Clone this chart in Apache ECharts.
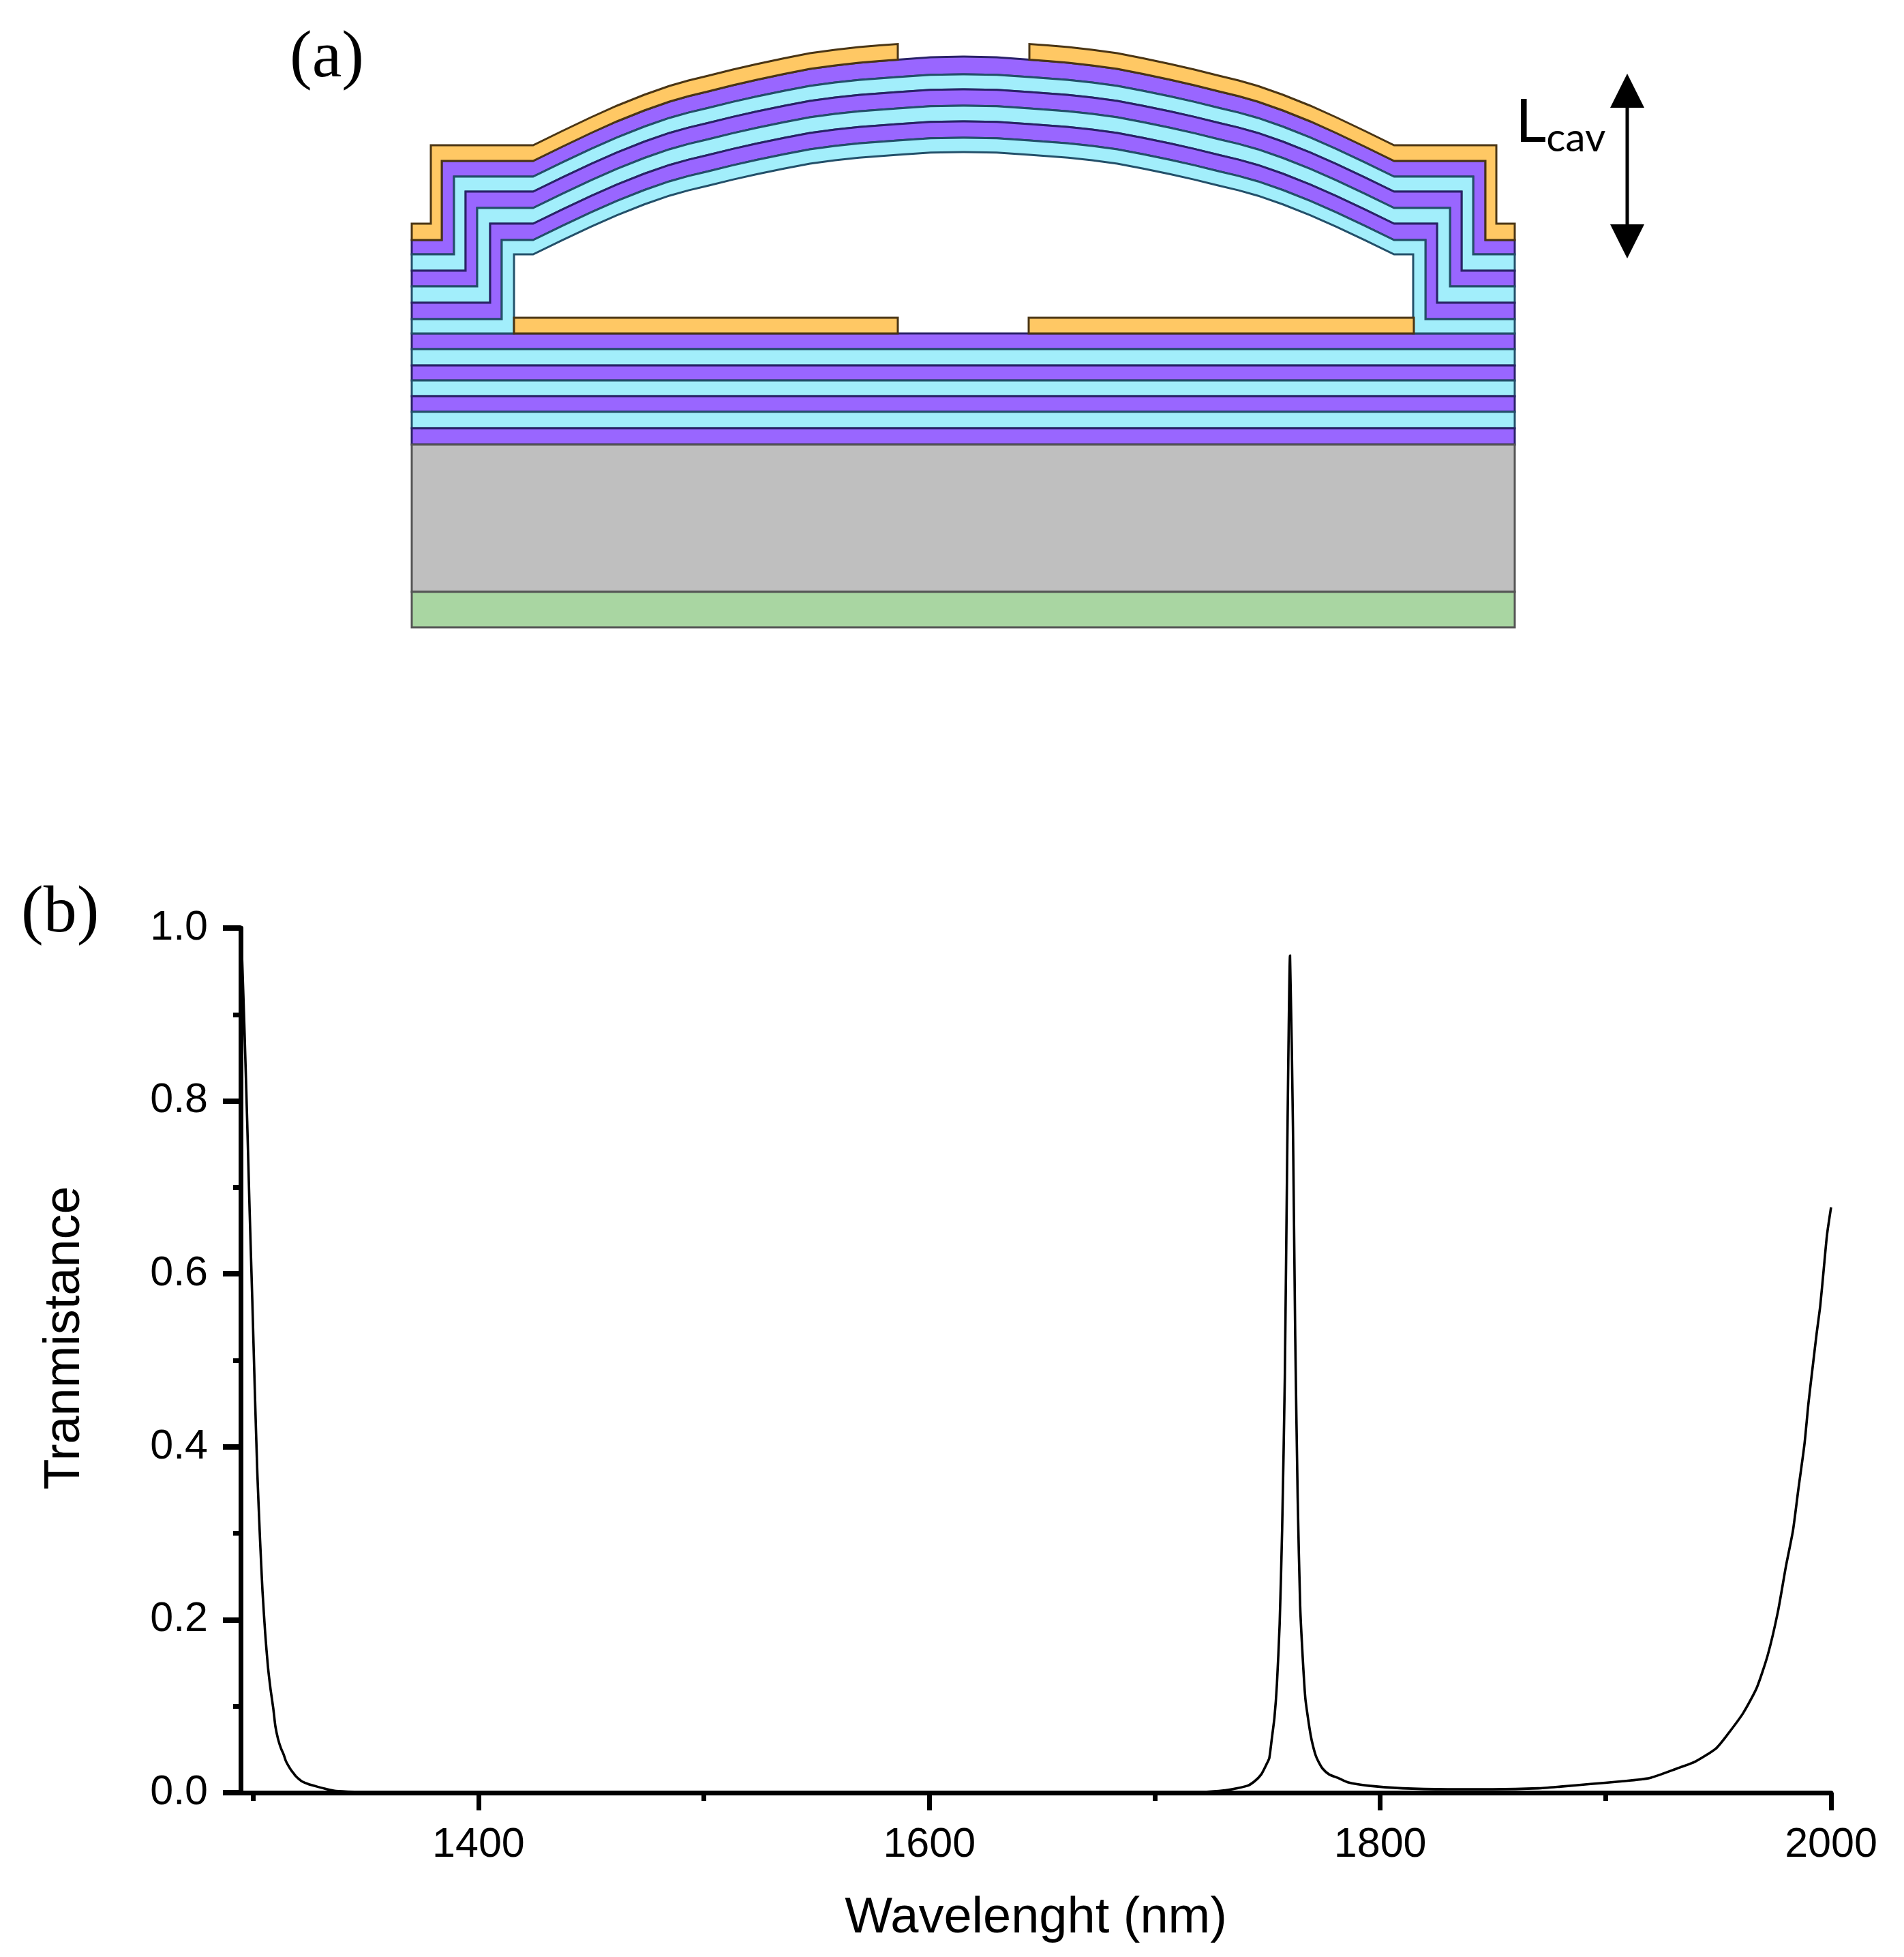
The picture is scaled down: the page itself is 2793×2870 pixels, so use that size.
<!DOCTYPE html>
<html>
<head>
<meta charset="utf-8">
<style>html,body{margin:0;padding:0;background:#fff}#c{width:2793px;height:2870px}</style>
<script src="https://cdn.jsdelivr.net/npm/echarts@6/dist/echarts.min.js"></script>
</head>
<body>
<div id="c"></div>
<script>
// ---- panel (b): transmittance spectrum ----
const wavelengths = [1294.5,1295.1,1296.3,1297.4,1298.5,1299.7,1300.8,1301.9,1303.1,1304.2,1305.4,1306.6,1307.8,1309,1309.9,1311.1,1312.3,1313.6,1314.5,1315.7,1316.9,1318.1,1319,1320.2,1321.7,1324.4,1328.4,1332.9,1336.8,1345,1360,1450,1550,1650,1715,
  1728.4,1734.2,1741.1,1744.2,1747.2,1749.6,1750.8,1751.9,1753.1,1754.2,1755.4,1756.5,1757.7,1758.8,1760,1761.3,1762.3,1763.4,1764.5,1765.7,1766.8,1768.1,1769.2,1770.2,1771.4,1772.6,1774.4,1777.4,1781.3,1785.6,
  1795,1810,1830,1850,1870,1880,1893.3,1906.6,1919.6,1931.7,1939.8,1948.9,1953.7,1961,1967,1971.9,1976.4,1980,1983.1,1985.5,1988.2,1990,1992.1,1993.6,1995.2,1996.7,1998.2,2000];
const transmittance = [1.0,0.969,0.874,0.777,0.672,0.567,0.464,0.37,0.293,0.233,0.184,0.146,0.119,0.097,0.077,0.062,0.052,0.044,0.037,0.031,0.026,0.022,0.019,0.016,0.013,0.01,0.007,0.004,0.002,0.001,0,0,0,0,0,
  0.002,0.004,0.008,0.013,0.021,0.033,0.04,0.062,0.087,0.126,0.195,0.304,0.481,0.749,0.968,0.77,0.529,0.341,0.216,0.153,0.109,0.084,0.066,0.054,0.043,0.036,0.028,0.021,0.017,0.012,
  0.008,0.005,0.004,0.004,0.005,0.007,0.01,0.013,0.017,0.028,0.036,0.051,0.066,0.092,0.121,0.159,0.209,0.262,0.303,0.351,0.403,0.451,0.498,0.531,0.563,0.604,0.645,0.677];
const xMajorTicks = [1400,1600,1800,2000];
const xMinorTicks = [1300,1500,1700,1900];
const xTitle = 'Wavelenght (nm)';
const yTitle = 'Tranmistance';

// ---- panel (a): layer structure, in picture units on hidden axes ----
const archX = [782,825,867,905,945,982,1010,1039,1075,1110,1150,1188,1225,1260,1290,1317,1365,1412.5];
const archY = [236,215,195,178,162,149,141,134,125,117,108.5,101,96,92,89.5,87.5,84,83];
const centerExtra = [0,0,3,3,3,3,3,3];
const stepEdgeY = [328,352,373,397,420,444,468,489];
const stepX = [632,648,666,683,700,719,736,754];
const shoulderY = [213,236,259,281,305,328,352,373];
const flatY = [489,512,536,558,581,604,628,652,868,920];
const leftEdge = 604, rightEdge = 2222, mirror = 2827, goldCut = 1317;
const colors = {gold:'#FFC864',purple:'#9966FF',cyan:'#A2EEFB',gray:'#BFBFBF',green:'#A9D6A2',black:'#000000'};
const strokes = {gold:'#4A3514',purple:'#2A2268',cyan:'#23506A',gray:'#555555',green:'#555555',black:'#000000'};
const flatColors = ['purple','cyan','purple','cyan','purple','cyan','purple','gray','green'];
const archColors = ['purple','cyan','purple','cyan','purple','cyan'];
const lowerGold = [[754,1317],[1509,2074]];
const lowerGoldY = [466,489];
const arrowX = [2362,2384.5,2389.5,2412];
const arrowY = [108,158,329,379];

function flip(q) { return [q[0] === leftEdge ? rightEdge : mirror - q[0], q[1]]; }
function halfBoundary(i, cut) {
  const shift = shoulderY[i] - archY[0];
  const p = [[leftEdge, stepEdgeY[i]], [stepX[i], stepEdgeY[i]], [stepX[i], shoulderY[i]]];
  archX.forEach((x, k) => {
    if (x <= cut) p.push([x, archY[k] + shift + centerExtra[i] * (x - archX[0]) / (archX[archX.length - 1] - archX[0])]);
  });
  return p;
}
function fullBoundary(i) {
  const h = halfBoundary(i, Infinity);
  return h.concat(h.slice().reverse().map(flip));
}
const shapes = [];
flatColors.forEach((c, i) => shapes.push({c, p:[[leftEdge,flatY[i]],[rightEdge,flatY[i]],[rightEdge,flatY[i+1]],[leftEdge,flatY[i+1]]]}));
archColors.forEach((c, i) => {
  const a = fullBoundary(i + 1), b = fullBoundary(i + 2);
  shapes.push({c, p:a.concat(b.slice().reverse())});
});
const ga = halfBoundary(0, goldCut), gb = halfBoundary(1, goldCut);
const goldLeft = ga.concat(gb.slice().reverse());
shapes.push({c:'gold', p:goldLeft});
shapes.push({c:'gold', p:goldLeft.map(flip)});
lowerGold.forEach(r => shapes.push({c:'gold', p:[[r[0],lowerGoldY[0]],[r[1],lowerGoldY[0]],[r[1],lowerGoldY[1]],[r[0],lowerGoldY[1]]]}));
// double arrow
shapes.push({c:'black', p:[[arrowX[1],arrowY[1]],[arrowX[2],arrowY[1]],[arrowX[2],arrowY[2]],[arrowX[1],arrowY[2]]]});
const mid = (arrowX[0] + arrowX[3]) / 2;
shapes.push({c:'black', p:[[mid,arrowY[0]],[arrowX[3],arrowY[1]],[arrowX[0],arrowY[1]]]});
shapes.push({c:'black', p:[[mid,arrowY[3]],[arrowX[3],arrowY[2]],[arrowX[0],arrowY[2]]]});

const serif = '"Liberation Serif"', sans = '"Liberation Sans"';
const chart = echarts.init(document.getElementById('c'), null, {renderer:'canvas'});
chart.setOption({
  animation:false,
  backgroundColor:'#ffffff',
  grid:[
    {left:353, top:1361, right:107, bottom:241, containLabel:false},
    {left:0, top:0, width:2793, height:2870}
  ],
  xAxis:[
    {type:'value', gridIndex:0, min:1294.5, max:2000, position:'bottom',
     name:xTitle, nameLocation:'middle', nameGap:148,
     nameTextStyle:{fontFamily:sans, fontSize:74, color:'#000'},
     axisLine:{show:true, onZero:false, lineStyle:{color:'#000', width:7}},
     axisTick:{show:true, length:26, lineStyle:{color:'#000', width:7}, customValues:xMajorTicks},
     axisLabel:{show:true, fontFamily:sans, fontSize:61, color:'#000', margin:47, customValues:xMajorTicks, formatter:v => String(v)},
     splitLine:{show:false}},
    {type:'value', gridIndex:0, min:1294.5, max:2000, position:'bottom',
     axisLine:{show:false},
     axisTick:{show:true, length:12, lineStyle:{color:'#000', width:7}, customValues:xMinorTicks},
     axisLabel:{show:false}, splitLine:{show:false}},
    {type:'value', gridIndex:1, min:0, max:2793, show:false}
  ],
  yAxis:[
    {type:'value', gridIndex:0, min:0, max:1, interval:0.2, position:'left',
     name:yTitle, nameLocation:'middle', nameGap:220, nameRotate:90,
     nameTextStyle:{fontFamily:sans, fontSize:74, color:'#000', padding:[0,0,0,66]},
     axisLine:{show:true, onZero:false, lineStyle:{color:'#000', width:7}},
     axisTick:{show:true, length:26, lineStyle:{color:'#000', width:8}},
     minorTick:{show:true, splitNumber:2, length:11, lineStyle:{color:'#000', width:7}},
     axisLabel:{show:true, fontFamily:sans, fontSize:61, color:'#000', margin:48, formatter:v => v.toFixed(1)},
     splitLine:{show:false}},
    {type:'value', gridIndex:1, min:0, max:2870, inverse:true, show:false}
  ],
  series:[
    {type:'custom', coordinateSystem:'cartesian2d', xAxisIndex:2, yAxisIndex:1, clip:false, silent:true,
     data:shapes.map((s,i)=>[i]),
     renderItem(params, api){
       const s = shapes[api.value(0)];
       return {type:'polygon',
         shape:{points:s.p.map(q=>api.coord(q))},
         style:{fill:colors[s.c], stroke:s.c==='black'?null:strokes[s.c], lineWidth:3, lineJoin:'miter'}};
     }},
    {type:'line', name:'Transmittance', xAxisIndex:0, yAxisIndex:0, showSymbol:false, clip:false, silent:true, z:3,
     smooth:0.2,
     lineStyle:{color:'#000', width:3.6, join:'miter'},
     data:wavelengths.map((w,i)=>[w, transmittance[i]])}
  ],
  graphic:[
    {type:'text', x:425, y:86, silent:true, style:{text:'(a)', font:'98px '+serif, fill:'#000', textVerticalAlign:'middle'}},
    {type:'text', x:31, y:1340, silent:true, style:{text:'(b)', font:'98px '+serif, fill:'#000', textVerticalAlign:'middle'}},
    {type:'text', x:2223, y:180, silent:true, style:{
      text:'{l|L}{s|cav}', textVerticalAlign:'middle', fill:'#000',
      rich:{l:{fontFamily:'Lato', fontSize:88, fill:'#000', color:'#000', lineHeight:90},
            s:{fontFamily:'Lato', fontSize:59, fill:'#000', color:'#000', lineHeight:90, padding:[46,0,0,0]}}}}
  ]
});
</script>
</body>
</html>
